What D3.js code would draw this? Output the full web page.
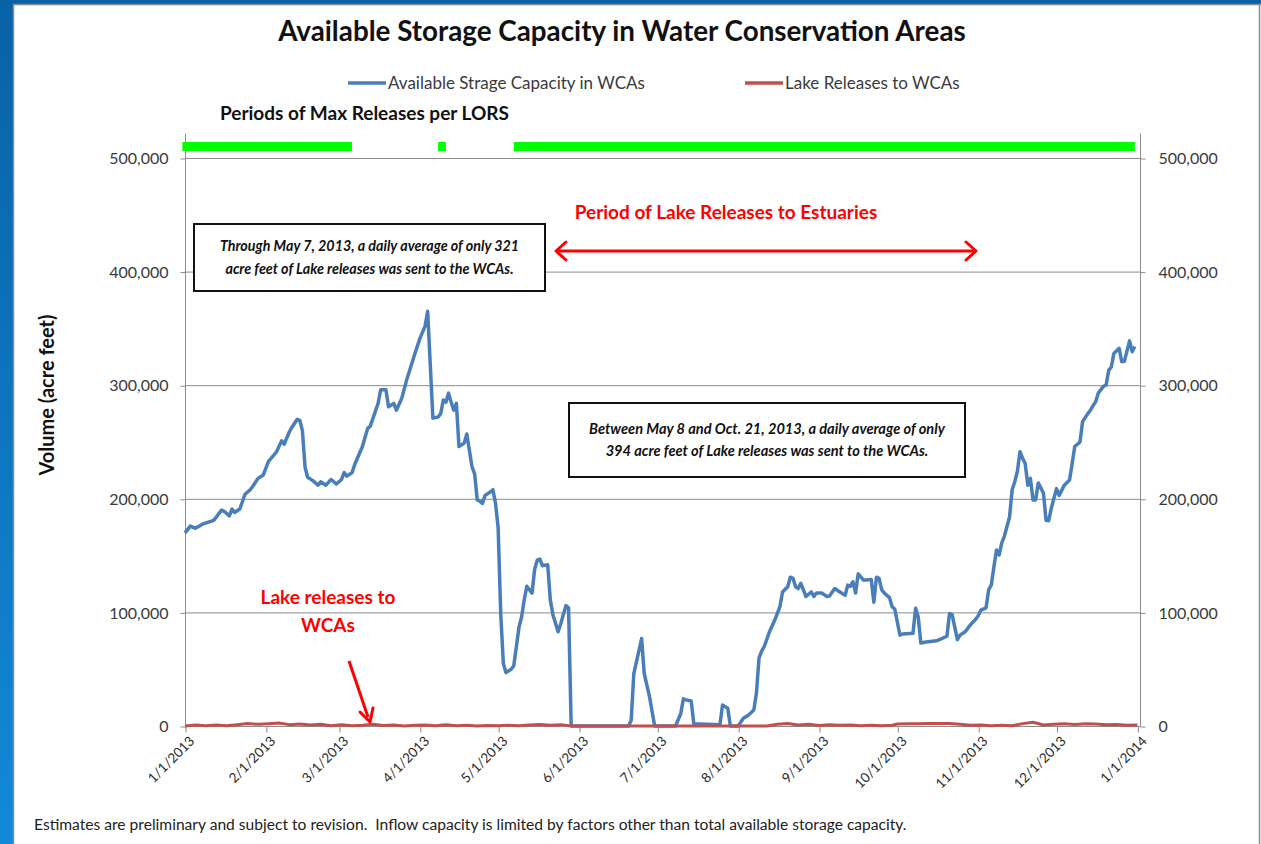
<!DOCTYPE html>
<html>
<head>
<meta charset="utf-8">
<script src="https://cdn.jsdelivr.net/npm/d3@7/dist/d3.min.js"></script>
<style>
  html, body { margin: 0; padding: 0; background: #fff; }
  svg text { font-family: Lato, "Open Sans", sans-serif; }
</style>
</head>
<body>
<div id="chart"></div>
<script>
// available storage in the WCAs (acre feet)
const storageDates = [
    "2013-01-01","2013-01-03","2013-01-05","2013-01-08","2013-01-12","2013-01-13","2013-01-15","2013-01-16","2013-01-18","2013-01-19",
    "2013-01-20","2013-01-22","2013-01-24","2013-01-26","2013-01-27","2013-01-29","2013-01-31","2013-02-02","2013-02-05","2013-02-07",
    "2013-02-08","2013-02-10","2013-02-11","2013-02-13","2013-02-14","2013-02-15","2013-02-16","2013-02-17","2013-02-19","2013-02-21",
    "2013-02-22","2013-02-24","2013-02-26","2013-02-28","2013-03-02","2013-03-03","2013-03-04","2013-03-06","2013-03-07","2013-03-10",
    "2013-03-12","2013-03-13","2013-03-16","2013-03-17","2013-03-19","2013-03-20","2013-03-22","2013-03-23","2013-03-25","2013-03-27",
    "2013-03-30","2013-04-01","2013-04-03","2013-04-04","2013-04-06","2013-04-08","2013-04-09","2013-04-10","2013-04-11","2013-04-12",
    "2013-04-13","2013-04-14","2013-04-15","2013-04-16","2013-04-18","2013-04-19","2013-04-21","2013-04-22","2013-04-23","2013-04-24",
    "2013-04-25","2013-04-26","2013-04-28","2013-04-29","2013-04-30","2013-05-01","2013-05-02","2013-05-03","2013-05-04","2013-05-06",
    "2013-05-07","2013-05-09","2013-05-10","2013-05-11","2013-05-12","2013-05-14","2013-05-15","2013-05-16","2013-05-17","2013-05-18",
    "2013-05-20","2013-05-21","2013-05-22","2013-05-24","2013-05-25","2013-05-27","2013-05-28","2013-05-29","2013-06-20","2013-06-21",
    "2013-06-22","2013-06-25","2013-06-26","2013-06-28","2013-06-30","2013-07-08","2013-07-10","2013-07-11","2013-07-12","2013-07-14",
    "2013-07-15","2013-07-25","2013-07-26","2013-07-28","2013-07-29","2013-08-01","2013-08-03","2013-08-05","2013-08-07","2013-08-08",
    "2013-08-09","2013-08-10","2013-08-11","2013-08-13","2013-08-15","2013-08-17","2013-08-18","2013-08-20","2013-08-21","2013-08-22",
    "2013-08-23","2013-08-24","2013-08-25","2013-08-27","2013-08-29","2013-08-30","2013-08-31","2013-09-02","2013-09-04","2013-09-05",
    "2013-09-07","2013-09-09","2013-09-11","2013-09-12","2013-09-13","2013-09-14","2013-09-15","2013-09-16","2013-09-18","2013-09-19",
    "2013-09-21","2013-09-22","2013-09-23","2013-09-24","2013-09-25","2013-09-26","2013-09-28","2013-09-29","2013-09-30","2013-10-02",
    "2013-10-03","2013-10-07","2013-10-08","2013-10-09","2013-10-10","2013-10-12","2013-10-16","2013-10-18","2013-10-20","2013-10-21",
    "2013-10-22","2013-10-24","2013-10-25","2013-10-27","2013-10-29","2013-10-31","2013-11-01","2013-11-02","2013-11-04","2013-11-05",
    "2013-11-06","2013-11-07","2013-11-08","2013-11-09","2013-11-10","2013-11-11","2013-11-13","2013-11-14","2013-11-15","2013-11-16",
    "2013-11-17","2013-11-18","2013-11-19","2013-11-20","2013-11-21","2013-11-22","2013-11-23","2013-11-24","2013-11-26","2013-11-27",
    "2013-11-28","2013-11-29","2013-12-01","2013-12-02","2013-12-04","2013-12-06","2013-12-07","2013-12-08","2013-12-10","2013-12-11",
    "2013-12-13","2013-12-14","2013-12-16","2013-12-17","2013-12-19","2013-12-20","2013-12-21","2013-12-22","2013-12-23","2013-12-25",
    "2013-12-26","2013-12-27","2013-12-29","2013-12-30","2013-12-31","2014-01-01"
];
const storageValues = [
    170000,176000,174000,178000,181000,184000,190000,189000,185000,191000,
    188000,191000,204000,208000,211000,218000,221000,233000,241000,251000,
    248000,259000,263000,270000,269000,260000,228000,219000,216000,212000,
    215000,212000,217000,213000,217000,223000,220000,223000,230000,246000,
    262000,264000,284000,296000,296000,281000,284000,278000,288000,305000,
    327000,341000,352000,365000,271000,272000,275000,287000,285000,293000,
    285000,278000,284000,246000,249000,257000,228000,222000,199000,198000,
    196000,203000,206000,208000,196000,175000,99000,55000,47000,50000,
    53000,87000,96000,111000,123000,117000,138000,146000,147000,141000,
    142000,111000,98000,83000,90000,106000,104000,0,0,5000,
    46000,77000,46000,26000,0,0,11000,24000,23000,22000,
    2000,1000,18500,15600,0,0,6800,9700,14000,29000,
    60000,66000,70000,83000,93000,105000,118000,122600,131000,130000,
    122600,121000,125600,114000,118000,114000,117000,117000,114000,114400,
    121000,118000,115000,124000,123000,127000,117000,134000,128500,128500,
    129000,109000,131000,130000,120000,117000,113000,105000,103000,80000,
    81000,81600,103600,96000,73000,74000,75000,77000,79000,99000,
    98000,76000,80000,83000,89000,94000,97000,102000,104000,120000,
    124000,140000,155000,150500,161000,167000,184000,208000,215000,224000,
    241500,235600,231000,212000,218000,199000,199000,214000,205000,181000,
    180700,191600,209000,203000,212000,216500,231000,246000,250000,268000,
    275000,278000,285500,293000,299000,300000,313000,316000,328000,332500,
    320700,321000,339000,329500,334000
];

// lake releases to the WCAs (acre feet per day)
const releaseDates = [
    "2013-01-01","2013-01-05","2013-01-09","2013-01-13","2013-01-17","2013-01-21","2013-01-25","2013-01-29","2013-02-02","2013-02-06",
    "2013-02-10","2013-02-14","2013-02-18","2013-02-22","2013-02-26","2013-03-02","2013-03-06","2013-03-10","2013-03-14","2013-03-18",
    "2013-03-22","2013-03-26","2013-03-30","2013-04-03","2013-04-07","2013-04-11","2013-04-15","2013-04-19","2013-04-23","2013-04-27",
    "2013-05-01","2013-05-05","2013-05-09","2013-05-13","2013-05-17","2013-05-21","2013-05-25","2013-05-29","2013-06-15","2013-07-15",
    "2013-08-12","2013-08-16","2013-08-20","2013-08-24","2013-08-28","2013-09-01","2013-09-05","2013-09-09","2013-09-13","2013-09-17",
    "2013-09-21","2013-09-25","2013-09-29","2013-10-01","2013-10-05","2013-10-09","2013-10-13","2013-10-17","2013-10-21","2013-10-25",
    "2013-10-29","2013-11-02","2013-11-06","2013-11-10","2013-11-14","2013-11-18","2013-11-22","2013-11-26","2013-11-30","2013-12-04",
    "2013-12-08","2013-12-12","2013-12-16","2013-12-20","2013-12-24","2013-12-28","2014-01-01"
];
const releaseValues = [
    0,800,300,900,200,1200,2200,1500,2000,2600,
    1200,1800,800,1500,300,1000,200,700,1600,400,
    800,0,600,900,200,1000,300,700,0,500,
    200,700,300,900,1400,600,1200,0,0,0,
    0,1500,2200,900,1600,400,1100,600,900,300,
    700,200,600,1800,2000,1900,2100,2300,2200,1500,
    600,900,200,600,300,2100,3300,900,1600,1900,
    1300,2000,1700,1000,1400,600,800
];

// periods of max releases per LORS
const lorsStarts = ["2012-12-31", "2013-04-08", "2013-05-07"];
const lorsEnds = ["2013-03-06", "2013-04-11", "2013-12-31"];

const yTicks = [0, 100000, 200000, 300000, 400000, 500000];

const W = 1261, H = 844;
const m = {left: 185, right: 1140, top: 158, bottom: 726, plotTop: 133};

const parse = d3.timeParse("%Y-%m-%d");
const fmtTick = d3.timeFormat("%-m/%-d/%Y");
const fmtNum = d3.format(",");

const svg = d3.select("#chart").append("svg")
    .attr("width", W)
    .attr("height", H);

// slide frame
const defs = svg.append("defs");
const grad = defs.append("linearGradient")
    .attr("id", "frame").attr("x1", 0).attr("y1", 0).attr("x2", 0).attr("y2", 1);
grad.append("stop").attr("offset", "0%").attr("stop-color", "#0862a6");
grad.append("stop").attr("offset", "100%").attr("stop-color", "#1289d8");

svg.append("rect").attr("width", W).attr("height", H).attr("fill", "#fff");
svg.append("rect").attr("x", 0).attr("y", 0).attr("width", 13).attr("height", H).attr("fill", "url(#frame)");
svg.append("rect").attr("x", 0).attr("y", 0).attr("width", W).attr("height", 4).attr("fill", "#0862a6");
svg.append("line").attr("x1", 13.5).attr("x2", 13.5).attr("y1", 4).attr("y2", H)
    .attr("stroke", "#8a8a8a").attr("stroke-width", 1.5);
svg.append("line").attr("x1", 13).attr("x2", W).attr("y1", 4.5).attr("y2", 4.5)
    .attr("stroke", "#8a8a8a").attr("stroke-width", 1.5);
svg.append("line").attr("x1", 1259.5).attr("x2", 1259.5).attr("y1", 4).attr("y2", H)
    .attr("stroke", "#8a8a8a").attr("stroke-width", 1.5);

const x = d3.scaleTime()
    .domain([new Date(2013, 0, 1), new Date(2014, 0, 2)])
    .range([m.left, m.right]);

const y = d3.scaleLinear()
    .domain([0, 500000])
    .range([m.bottom, m.top]);

// gridlines
svg.append("g")
    .selectAll("line")
    .data(yTicks.filter(d => d > 0))
    .join("line")
    .attr("x1", m.left).attr("x2", m.right)
    .attr("y1", d => y(d) + 0.5).attr("y2", d => y(d) + 0.5)
    .attr("stroke", "#8c8c8c").attr("stroke-width", 1);

// left and right axes
const leftAxis = svg.append("g")
    .attr("transform", `translate(${m.left + 0.5},0.5)`)
    .call(d3.axisLeft(y).tickValues(yTicks).tickSize(5).tickPadding(12).tickFormat(fmtNum));
const rightAxis = svg.append("g")
    .attr("transform", `translate(${m.right + 0.5},0.5)`)
    .call(d3.axisRight(y).tickValues(yTicks).tickSize(5).tickPadding(13).tickFormat(fmtNum));

[leftAxis, rightAxis].forEach(ax => {
    ax.select(".domain").remove();
    ax.selectAll("line").attr("stroke", "#8c8c8c");
    ax.selectAll("text")
        .style("font-size", "16px")
        .style("font-family", "Lato, sans-serif")
        .attr("fill", "#3a3a3a");
    ax.append("line")
        .attr("x1", 0).attr("x2", 0)
        .attr("y1", m.plotTop).attr("y2", m.bottom)
        .attr("stroke", "#8c8c8c");
});

// x axis
const xAxis = svg.append("g")
    .attr("transform", `translate(0.5,${m.bottom + 0.5})`)
    .call(d3.axisBottom(x)
        .tickValues(d3.timeMonth.range(new Date(2013, 0, 1), new Date(2014, 0, 2)))
        .tickSize(6)
        .tickFormat(fmtTick));
xAxis.select(".domain").attr("d", `M${m.left},0H${m.right}`).attr("stroke", "#8c8c8c");
xAxis.selectAll("line").attr("stroke", "#8c8c8c");
xAxis.selectAll("text")
    .style("font-size", "13.5px")
    .style("font-family", "Lato, sans-serif")
    .attr("fill", "#2a2a2a")
    .attr("text-anchor", "end")
    .attr("dy", null)
    .attr("transform", "translate(2,8) rotate(-45)")
    .attr("x", 0).attr("y", 0)
    .attr("dominant-baseline", "hanging");

// LORS max release periods
svg.append("g")
    .selectAll("rect")
    .data(lorsStarts.map((s, i) => ({start: parse(s), end: parse(lorsEnds[i])})))
    .join("rect")
    .attr("x", d => x(d.start))
    .attr("width", d => x(d.end) - x(d.start))
    .attr("y", 142)
    .attr("height", 9)
    .attr("fill", "#00ff00");

// series
const storage = storageDates.map((d, i) => ({date: parse(d), value: storageValues[i]}));
const releases = releaseDates.map((d, i) => ({date: parse(d), value: releaseValues[i]}));

const line = d3.line()
    .x(d => x(d.date))
    .y(d => y(d.value));

svg.append("path")
    .datum(storage)
    .attr("fill", "none")
    .attr("stroke", "#4a7ebb")
    .attr("stroke-width", 3.5)
    .attr("stroke-linejoin", "round")
    .attr("d", line);

svg.append("path")
    .datum(releases)
    .attr("fill", "none")
    .attr("stroke", "#c0504d")
    .attr("stroke-width", 3)
    .attr("stroke-linejoin", "round")
    .attr("d", line);

// title
svg.append("text")
    .attr("x", 622).attr("y", 41)
    .attr("text-anchor", "middle")
    .style("font-size", "27.8px")
    .style("font-weight", "bold")
    .attr("fill", "#111")
    .text("Available Storage Capacity in Water Conservation Areas");

// legend
const legendItems = [
    {label: "Available Strage Capacity in WCAs", color: "#4a7ebb", x: 348},
    {label: "Lake Releases to WCAs", color: "#c0504d", x: 745}
];
const legend = svg.append("g")
    .selectAll("g")
    .data(legendItems)
    .join("g")
    .attr("transform", d => `translate(${d.x},83)`);
legend.append("line")
    .attr("x1", 0).attr("x2", 38)
    .attr("stroke", d => d.color)
    .attr("stroke-width", 3.5);
legend.append("text")
    .attr("x", 40).attr("y", 6)
    .style("font-size", "17px")
    .attr("fill", "#3a3a3a")
    .text(d => d.label);

svg.append("text")
    .attr("x", 220).attr("y", 120)
    .style("font-size", "19px")
    .style("font-weight", "bold")
    .attr("fill", "#111")
    .text("Periods of Max Releases per LORS");

// y title
svg.append("text")
    .attr("transform", "translate(54,395) rotate(-90)")
    .attr("text-anchor", "middle")
    .style("font-size", "20px")
    .style("font-weight", "bold")
    .attr("fill", "#111")
    .text("Volume (acre feet)");

// annotation boxes
function noteBox(x0, y0, w, h, lines, lineGap, size) {
    svg.append("rect")
        .attr("x", x0).attr("y", y0).attr("width", w).attr("height", h)
        .attr("fill", "#fff").attr("stroke", "#111").attr("stroke-width", 2);
    svg.append("text")
        .attr("text-anchor", "middle")
        .style("font-size", size + "px")
        .style("font-weight", "bold")
        .style("font-style", "italic")
        .attr("fill", "#111")
        .selectAll("tspan")
        .data(lines)
        .join("tspan")
        .attr("x", x0 + w / 2)
        .attr("y", (d, i) => y0 + h / 2 - lineGap / 2 + 5 + i * lineGap)
        .text(d => d);
}
noteBox(194, 224, 351, 67, ["Through May 7, 2013, a daily average of only 321",
    "acre feet of Lake releases was sent to the WCAs."], 23, 14.3);
noteBox(569, 403, 396, 74, ["Between May 8 and Oct. 21, 2013, a daily average of only",
    "394 acre feet of Lake releases was sent to the WCAs."], 22, 14.6);

// estuary release period arrow
const red = "#ff0000";
svg.append("text")
    .attr("x", 726).attr("y", 219)
    .attr("text-anchor", "middle")
    .style("font-size", "19px")
    .style("font-weight", "bold")
    .attr("fill", red)
    .text("Period of Lake Releases to Estuaries");
svg.append("line")
    .attr("x1", 556).attr("x2", 976).attr("y1", 251).attr("y2", 251)
    .attr("stroke", red).attr("stroke-width", 3);
svg.append("path")
    .attr("d", "M566,242L556,251L566,260M966,242L976,251L966,260")
    .attr("fill", "none").attr("stroke", red).attr("stroke-width", 3)
    .attr("stroke-linecap", "round").attr("stroke-linejoin", "round");

// lake releases callout
svg.append("text")
    .attr("text-anchor", "middle")
    .style("font-size", "19px")
    .style("font-weight", "bold")
    .attr("fill", red)
    .selectAll("tspan")
    .data(["Lake releases to", "WCAs"])
    .join("tspan")
    .attr("x", 328)
    .attr("y", (d, i) => 604 + i * 28)
    .text(d => d);
svg.append("line")
    .attr("x1", 349).attr("y1", 661).attr("x2", 368).attr("y2", 717)
    .attr("stroke", red).attr("stroke-width", 3);
svg.append("path")
    .attr("d", "M360,712L370,722L373,708")
    .attr("fill", "none").attr("stroke", red).attr("stroke-width", 3)
    .attr("stroke-linecap", "round").attr("stroke-linejoin", "round");

// footnote
svg.append("text")
    .attr("x", 34).attr("y", 830)
    .style("font-size", "15.6px")
    .style("white-space", "pre")
    .attr("fill", "#222")
    .text("Estimates are preliminary and subject to revision.  Inflow capacity is limited by factors other than total available storage capacity.");
</script>
</body>
</html>
